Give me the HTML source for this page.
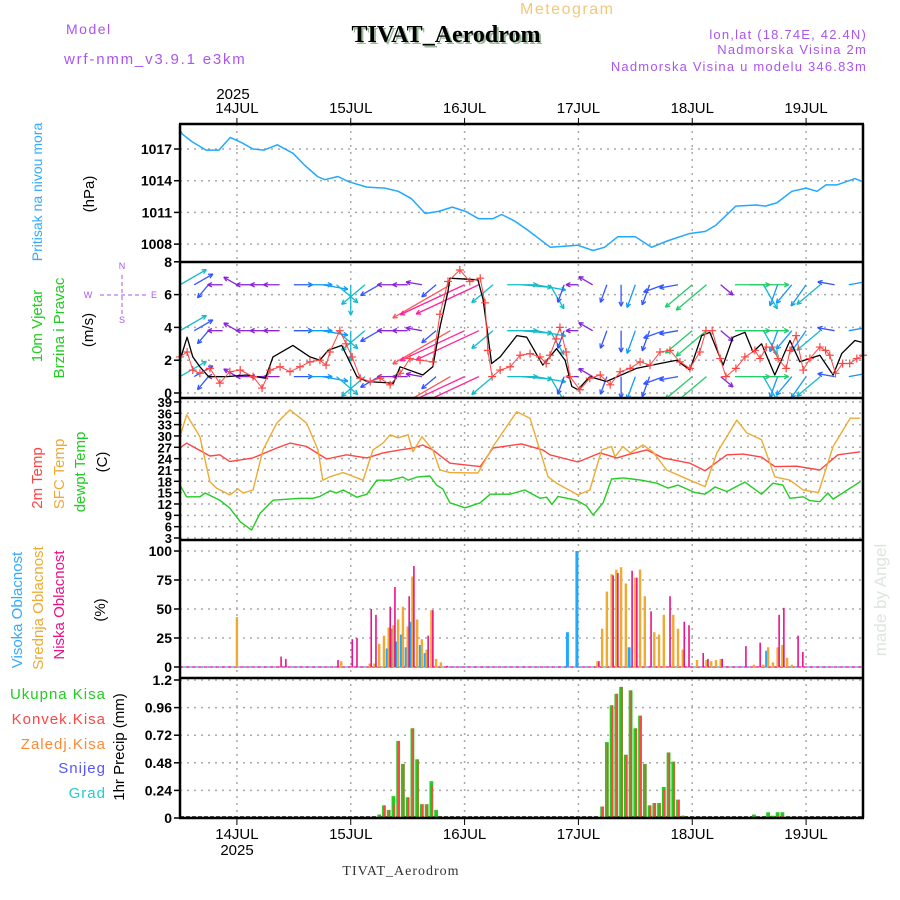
<!DOCTYPE html>
<html><head><meta charset="utf-8">
<style>
html,body{margin:0;padding:0;background:#fff;}
svg{display:block;font-family:"Liberation Sans",sans-serif;}
</style></head>
<body>
<svg id="chart" width="900" height="900" viewBox="0 0 900 900" xmlns="http://www.w3.org/2000/svg">
<g>
<text x="520" y="14" font-size="16" fill="#f2c878" letter-spacing="1.5">Meteogram</text>
<text x="448" y="44" text-anchor="middle" font-family="Liberation Serif, serif" font-weight="bold" font-size="24" fill="#9ab89a">TIVAT_Aerodrom</text>
<text x="446" y="42" text-anchor="middle" font-family="Liberation Serif, serif" font-weight="bold" font-size="24" fill="#000">TIVAT_Aerodrom</text>
<text x="66" y="34" font-size="14" fill="#aa55ee" letter-spacing="1.5">Model</text>
<text x="64" y="64" font-size="15" fill="#aa55ee" letter-spacing="1.8">wrf-nmm_v3.9.1 e3km</text>
<text x="867" y="39" text-anchor="end" font-size="13" fill="#aa55ee" letter-spacing="1.2">lon,lat (18.74E, 42.4N)</text>
<text x="867" y="54" text-anchor="end" font-size="13" fill="#aa55ee" letter-spacing="1.2">Nadmorska Visina 2m</text>
<text x="867" y="71" text-anchor="end" font-size="13" fill="#aa55ee" letter-spacing="1.2">Nadmorska Visina u modelu 346.83m</text>
</g>
<g id="grid"></g>
<g id="marks"></g>
<g id="frame"></g>
<g id="labels">
<text transform="translate(42,192) rotate(-90)" text-anchor="middle" font-size="14" fill="#33aaff">Pritisak na nivou mora</text>
<text transform="translate(94,194) rotate(-90)" text-anchor="middle" font-size="15" fill="#000">(hPa)</text>
<text transform="translate(42,326) rotate(-90)" text-anchor="middle" font-size="15" fill="#22cc22">10m Vjetar</text>
<text transform="translate(64,328) rotate(-90)" text-anchor="middle" font-size="15" fill="#22cc22">Brzina i Pravac</text>
<text transform="translate(93,330) rotate(-90)" text-anchor="middle" font-size="15" fill="#000">(m/s)</text>
<g fill="#aa55ee" font-size="9" stroke="none">
<text x="122" y="269" text-anchor="middle">N</text>
<text x="122" y="323" text-anchor="middle">S</text>
<text x="88" y="298" text-anchor="middle">W</text>
<text x="154" y="298" text-anchor="middle">E</text>
<line x1="122" y1="275" x2="122" y2="314" stroke="#aa55ee" stroke-dasharray="4,3"/>
<line x1="100" y1="295" x2="146" y2="295" stroke="#aa55ee" stroke-dasharray="4,3"/>
</g>
<text transform="translate(42,478) rotate(-90)" text-anchor="middle" font-size="15" fill="#ff4444">2m Temp</text>
<text transform="translate(64,474) rotate(-90)" text-anchor="middle" font-size="15" fill="#eeaa33">SFC Temp</text>
<text transform="translate(85,472) rotate(-90)" text-anchor="middle" font-size="15" fill="#22cc22">dewpt Temp</text>
<text transform="translate(107,462) rotate(-90)" text-anchor="middle" font-size="15" fill="#000">(C)</text>
<text transform="translate(22,610) rotate(-90)" text-anchor="middle" font-size="15" fill="#33aaff">Visoka Oblacnost</text>
<text transform="translate(43,608) rotate(-90)" text-anchor="middle" font-size="15" fill="#eeaa33">Srednja Oblacnost</text>
<text transform="translate(64,605) rotate(-90)" text-anchor="middle" font-size="15" fill="#ee1188">Niska Oblacnost</text>
<text transform="translate(105,610) rotate(-90)" text-anchor="middle" font-size="15" fill="#000">(%)</text>
<text x="106" y="699" text-anchor="end" font-size="15" fill="#22cc22" letter-spacing="1">Ukupna Kisa</text>
<text x="106" y="724" text-anchor="end" font-size="15" fill="#ff4444" letter-spacing="1">Konvek.Kisa</text>
<text x="106" y="749" text-anchor="end" font-size="15" fill="#ff8833" letter-spacing="1">Zaledj.Kisa</text>
<text x="106" y="773" text-anchor="end" font-size="15" fill="#5555ff" letter-spacing="1">Snijeg</text>
<text x="106" y="798" text-anchor="end" font-size="15" fill="#22cccc" letter-spacing="1">Grad</text>
<text transform="translate(124,747) rotate(-90)" text-anchor="middle" font-size="15" fill="#000">1hr Precip (mm)</text>
<text transform="translate(886,600) rotate(-90)" text-anchor="middle" font-size="17" fill="#dde6dd">made by Angel</text>
<text x="233" y="99" text-anchor="middle" font-size="15" fill="#000">2025</text>
<text x="237" y="855" text-anchor="middle" font-size="15" fill="#000">2025</text>
<text x="401" y="875" text-anchor="middle" font-family="Liberation Serif, serif" font-size="14" fill="#333" letter-spacing="1">TIVAT_Aerodrom</text>
</g>
</svg>
<script>
// ---- data ----
const dayLabels = ["14JUL","15JUL","16JUL","17JUL","18JUL","19JUL"];
const dayHours = [12,36,60,84,108,132];
const pressTicks = [1008,1011,1014,1017];
const windTicks = [0,2,4,6,8];
const tempTicks = [3,6,9,12,15,18,21,24,27,30,33,36,39];
const cloudTicks = [0,25,50,75,100];
const precipTicks = [0,0.24,0.48,0.72,0.96,1.2];

const pHours = [0,0.5,2.5,5.5,8.2,10.6,13,15.4,17.7,20.5,23.8,26.2,29,30.5,33.3,35.6,39.4,43.2,46,48.8,51.7,54.5,57.4,60.2,63,65.9,67.8,70.5,73.4,78.1,81,83.8,87.1,89.5,92.3,96,99.4,102.7,107.4,110.8,113,117.2,121.5,123.4,125.8,129,132,134.3,136.2,138.5,142.3,144];
const pVals = [1018.8,1018.4,1017.7,1016.9,1016.9,1018.1,1017.6,1017.0,1016.9,1017.4,1016.6,1015.5,1014.4,1014.1,1014.4,1013.9,1013.4,1013.3,1013.0,1012.3,1010.9,1011.1,1011.5,1011.1,1010.4,1010.4,1010.8,1010.2,1009.3,1007.7,1007.8,1007.9,1007.4,1007.7,1008.7,1008.7,1007.7,1008.3,1009.0,1009.2,1009.8,1011.6,1011.7,1011.6,1011.9,1013.0,1013.3,1013.0,1013.6,1013.6,1014.2,1013.9];

const spdHours = [0,1.5,2.7,4.2,6,10,14,18,19.6,23.8,27.4,29.5,31.2,34.1,37.3,39.4,45,46.4,51.2,53.3,54.8,56.5,56.9,62.8,63.9,65.7,67.5,71,73.1,76.5,79.4,81.2,82.6,83.9,86.4,89.9,96.2,101.2,104.7,107.5,110,111.7,114.5,116.6,119.1,120.8,122.6,125.4,128.6,130.7,134.9,137.7,139.5,142.3,143.7];
const spdVals = [2.0,3.4,2.2,1.6,1.0,1.0,1.1,0.9,2.2,2.9,2.2,2.0,2.6,2.9,1.0,0.7,0.6,1.6,1.1,1.6,4.0,6.2,7.0,6.9,5.7,1.8,2.2,3.5,3.4,1.7,2.7,2.0,0.4,0.2,1.0,0.7,1.5,1.8,2.0,1.4,3.5,3.7,1.7,3.4,3.7,2.5,3.0,1.1,3.2,1.9,2.3,1.1,2.4,3.2,3.1];

const gustHours = [0,1.5,2.7,4.2,6.3,8.4,10.5,12.7,15.4,17.3,19,21.1,23.2,25.3,27.4,29.5,30.8,31.6,33.7,35,36.3,38,40.1,42.2,44.3,46.4,48.5,50.6,53.3,54.8,56.5,59,61.1,63.3,64.3,64.9,65.8,67.5,69.6,71.7,73.8,75.9,77.2,78,79.3,80.1,81.4,82.2,84.3,86.4,88.6,90.7,92.8,94.9,97,99.1,101.2,103.3,105.4,107.5,109.6,110.9,112.2,113.9,115.1,117.2,119.1,121.2,122.3,123.6,124.8,126.1,127.8,128.6,129.9,131.4,132.8,134.9,136.1,137,138.2,139.7,141.2,142.7,144];
const gustVals = [2.2,2.5,1.4,1.2,1.5,0.6,1.3,1.4,1.0,0.3,1.4,1.6,1.3,1.6,1.9,2.0,1.7,2.5,3.8,3.0,2.2,0.9,0.7,0.9,0.5,1.2,2.1,2.0,1.9,4.8,6.8,7.5,6.8,7.0,5.5,2.6,1.0,1.4,1.6,2.3,2.4,2.2,1.8,2.3,3.3,4.0,2.5,1.0,0.2,0.9,1.1,0.5,1.3,1.5,1.9,1.7,2.5,2.6,1.9,1.5,2.5,3.8,3.8,2.1,1.0,1.5,2.2,2.6,2.1,2.8,2.8,2.1,1.5,2.6,3.5,1.4,2.1,2.8,2.6,2.3,1.2,1.8,1.8,2.1,2.3];

const windHours = [0,3,6,9,12,15,18,21,24,27,30,33,36,39,42,45,48,51,54,57,60,63,66,69,72,75,78,81,84,87,90,93,96,99,102,105,108,111,114,117,120,123,126,129,132,135,138,141,144];
const windDir = [60,60,220,270,300,270,270,270,90,90,100,130,180,230,240,270,270,280,230,240,245,245,230,90,95,100,150,200,270,300,200,180,200,200,250,260,230,230,130,90,90,150,200,220,215,230,280,80,80];
const windSpd = [2.5,1.5,1,0.8,0.8,0.8,0.8,0.9,1.2,1.8,2,2.2,2.5,2.5,1.5,0.9,0.8,0.9,1.2,6.5,7,6.8,2.2,2.5,2.5,2.5,2.2,1.2,0.5,0.9,1.2,1.5,1.8,1.5,1.5,1.2,3,3.5,0.9,3,3.5,2.2,1.6,1.8,2,2.5,1,2,3];
const windRows = [1,3.8,6.6];

const t2Hours = [0,1.4,6.3,8.4,10.5,15.4,20.4,23.2,26.7,30.9,35.1,39.4,42.8,46.4,49.1,51.2,53.3,56.9,63.3,66,72,76.5,78,83.9,88.6,92.1,94.9,98.4,101.8,107.5,110.7,115.3,118.7,122.6,125.4,130,134.9,138.7,143.4];
const t2Vals = [26.8,28.1,24.7,25,23.2,24.2,26.8,28.1,27.2,23.9,25,24.2,25.5,26.3,26.8,27.6,26.3,22.8,21.9,26.8,27.9,26.3,25,23.1,25.5,24.2,25.2,26.3,24.2,22.8,20.8,25,25.2,24.4,21.9,22,21,25,25.8];
const sfcHours = [0,1.4,4.2,6.3,7.7,10.5,12.2,13.3,15.4,17.5,20.4,23.2,26.7,29.1,30.1,31.6,34.4,38.6,40.7,42.8,44.3,46,48.1,49.1,51,53.3,54.8,56.9,62.8,66,71,73.8,77.6,79.4,83.9,86.4,88.9,91,91.7,93.4,94.9,97.6,99.7,102.6,107.5,110.7,113.2,117.4,119.5,122.6,125.4,128.6,131.4,134.6,137.7,141.3,143.4];
const sfcVals = [29.8,35.6,29.8,17.9,16.2,14.4,16.0,14.9,15.7,26.3,33.4,36.9,33.4,26.3,18.3,19.2,20.3,18.3,26.3,28.1,30.3,29.5,30.3,25.8,29.8,26.3,21,20.3,20.2,27.2,36.4,34.7,19.2,17.5,14.4,15.7,26.3,27.2,24.5,27.2,25.5,27.6,25.8,21,18.3,16.6,25.5,34.2,30.8,29,19.2,18.3,15.7,15,27.2,34.7,34.7];
const dewHours = [0,1.4,4.2,5.3,8.4,10.5,12.7,15.1,16.9,19.6,25.3,28,29.5,31.6,33,34.4,37.3,39.4,41.5,44.3,47,48.1,49.9,52.7,54.1,55.4,56.9,60.1,63.3,65.4,69.6,72.7,75.9,77.3,78.4,79.7,83.6,85.7,87.1,89.2,91,93.4,97.3,100.5,102.9,105,108.6,110.7,112.8,115.3,119.1,122.6,125,127.1,128.6,131.4,132.8,134.9,136.6,137.7,143.4];
const dewVals = [17,13.9,13.9,14.9,13,10.9,7.3,5.1,9.6,13,13.5,13.5,14,15.5,14.9,15.7,13.8,14.6,18.3,18.3,19.1,18.3,19.1,19.4,17,16,12.3,11,12.3,14.6,14.6,15.7,13.5,13.8,11.9,14,13,11.5,9.1,12.3,18.6,18.9,18.3,17.5,16.2,17,15,14.6,16.5,15.3,17.8,14.6,17.5,17,13.5,13.9,12.9,12.6,14.9,13.3,17.9];

const highH = [44,45,46,47,48,49,51,52,82,84,95,124];
const highV = [16,33,22,28,17,39,19,12,30,100,17,14];
const midH = [12,34,40,41,42,43,44,45,46,47,48,49,50,51,52,53,54,55,88,89,90,91,92,93,94,96,97,98,100,101,102,104,105,106,109,111,112,113,114,121,123,124,125,126,127,128,129];
const midV = [43,5,3,3,20,27,34,36,41,52,35,78,41,24,15,49,7,4,5,33,65,80,84,86,72,77,84,61,30,28,45,45,33,15,6,6,5,6,7,2,2,17,4,17,19,8,2];
const lowH = [21,22,33,36,37,40,41,44,45,48,49,52,53,56,88,91,92,95,96,99,103,106,107,110,111,114,119,122,126,127,130,131];
const lowV = [9,7,6,24,25,50,45,52,69,61,87,27,49,1,5,79,81,83,77,48,61,39,36,12,7,7,18,21,45,51,27,13];

const rainH = [42,43,44,45,46,47,48,49,50,51,52,53,54,89,90,91,92,93,94,95,96,97,98,99,100,101,102,103,104,105,106,121,122,124,125,126,127,128];
const rainTotal = [0.03,0.11,0.07,0.19,0.67,0.47,0.18,0.78,0.51,0.12,0.12,0.32,0.07,0.1,0.66,0.98,1.08,1.14,0.55,1.11,0.78,0.89,0.47,0.11,0.13,0.13,0.27,0.57,0.49,0.16,0.02,0.03,0.01,0.05,0.02,0.05,0.05,0.01];
const rainConv = [0.03,0.11,0.07,0.12,0.67,0.47,0.18,0.78,0.51,0.12,0.12,0.28,0,0.1,0.65,0.98,1.08,1.14,0.55,1.11,0.78,0.89,0.47,0.11,0.13,0.13,0.25,0.57,0.49,0.16,0.02,0,0,0.01,0,0.02,0.02,0];

// ---- scales ----
const X0 = 180, X1 = 863;
const x = h => X0 + h * (X1 - X0) / 144;
const yP = p => 149 + (1017 - p) * 10.57;
const yW = s => 393 - s * 16.4;
const yT = t => 538 - (t - 3) * 3.78;
const yC = c => 667 - c * 1.16;
const yR = r => 818 - r * 115;
const panels = [[124,262],[262,398],[398,540],[540,678],[678,818]];

const NS = "http://www.w3.org/2000/svg";
function mk(parent, tag, attrs) {
  const e = document.createElementNS(NS, tag);
  for (const k in attrs) e.setAttribute(k, attrs[k]);
  parent.appendChild(e);
  return e;
}
const grid = document.getElementById("grid");
const marks = document.getElementById("marks");
const frame = document.getElementById("frame");
const labels = document.getElementById("labels");

// vertical day gridlines + day labels
dayHours.forEach((h, i) => {
  const gl = mk(grid, "line", {x1:x(h), x2:x(h), y1:124, y2:818, stroke:"#aaa", "stroke-dasharray":"2,5", "stroke-width":1.5});
  
  
  const tt = mk(labels, "text", {x:x(h), y:113, "text-anchor":"middle", "font-size":15, fill:"#000"});
  tt.textContent = dayLabels[i];
  
  
  const bt = mk(labels, "text", {x:x(h), y:839, "text-anchor":"middle", "font-size":15, fill:"#000"});
  bt.textContent = dayLabels[i];
  
  
  mk(frame, "line", {x1:x(h), x2:x(h), y1:118, y2:124, stroke:"#000"});
  mk(frame, "line", {x1:x(h), x2:x(h), y1:818, y2:825, stroke:"#000"});
});

// horizontal ticks
function hticks(ticks, yf, fmt, fs) {
  ticks.forEach(v => {
    const y = yf(v);
    const g = mk(grid, "line", {x1:X0, x2:X1, y1:y, y2:y, stroke:"#aaa", "stroke-dasharray":"2,5", "stroke-width":1.5});
    
    
    mk(frame, "line", {x1:X0-6, x2:X0, y1:y, y2:y, stroke:"#000", "stroke-width":1.5});
    const t = mk(labels, "text", {x:X0-8, y:y+5, "text-anchor":"end", "font-size":fs, "font-weight":"bold", fill:"#000"});
    t.textContent = fmt(v);
    
    
  });
}
hticks(pressTicks, yP, v => v, 14);
hticks(windTicks, yW, v => v, 14);
hticks(tempTicks, yT, v => v, 13);
hticks(cloudTicks, yC, v => v, 14);
hticks(precipTicks, yR, v => v, 14);

function polyline(hs, vs, yf, color, name, w) {
  const pts = hs.map((h, i) => x(h).toFixed(1) + "," + yf(vs[i]).toFixed(1)).join(" ");
  const p = mk(marks, "polyline", {points:pts, fill:"none", stroke:color, "stroke-width":w||1.4, "stroke-linejoin":"round"});
  
  
}

// pressure
polyline(pHours, pVals, yP, "#22a8ff", "pressure-line", 1.5);

// wind arrows
function spdColor(s) {
  if (s < 1) return "#8822dd";
  if (s < 1.6) return "#3355ff";
  if (s < 2.2) return "#1199ff";
  if (s < 2.8) return "#11bbcc";
  if (s < 4) return "#22cc66";
  if (s < 5.5) return "#ffaa22";
  if (s < 6.8) return "#ff5555";
  return "#ff2299";
}
const clip = mk(marks, "clipPath", {id:"windclip"});
mk(clip, "rect", {x:X0, y:262, width:X1-X0, height:136});
const windG = mk(marks, "g", {"clip-path":"url(#windclip)"});


windRows.forEach(r => {
  windHours.forEach((h, i) => {
    const s = windSpd[i], d = windDir[i] * Math.PI / 180;
    const L = 8 + s * 9;
    const x0 = x(h), y0 = yW(r);
    const dx = Math.sin(d), dy = -Math.cos(d);
    const x1 = x0 + dx * L, y1 = y0 + dy * L;
    const c = spdColor(s);
    const a = mk(windG, "g", {stroke:c, "stroke-width":1.3, fill:"none"});
    
    
    mk(a, "line", {x1:x0, y1:y0, x2:x1, y2:y1});
    const hl = 5, ang = 0.45;
    const bx = -dx, by = -dy;
    const ca = Math.cos(ang), sa = Math.sin(ang);
    mk(a, "line", {x1:x1, y1:y1, x2:x1 + hl*(bx*ca - by*sa), y2:y1 + hl*(bx*sa + by*ca)});
    mk(a, "line", {x1:x1, y1:y1, x2:x1 + hl*(bx*ca + by*sa), y2:y1 + hl*(-bx*sa + by*ca)});
  });
});

// wind speed & gust
polyline(spdHours, spdVals, yW, "#000", "wind-speed-line", 1.3);
polyline(gustHours, gustVals, yW, "#ff4444", "wind-gust-line", 1);
gustHours.forEach((h, i) => {
  const cx = x(h), cy = yW(gustVals[i]);
  const p = mk(marks, "path", {d:`M${cx-4},${cy}H${cx+4}M${cx},${cy-4}V${cy+4}`, stroke:"#ff4444", "stroke-width":1.2});
  
  
});

// temperatures
polyline(t2Hours, t2Vals, yT, "#ff4444", "temp-2m-line", 1.4);
polyline(sfcHours, sfcVals, yT, "#eeaa33", "temp-sfc-line", 1.4);
polyline(dewHours, dewVals, yT, "#22cc22", "dewpoint-line", 1.4);

// clouds
const zl = mk(marks, "line", {x1:X0, x2:X1, y1:yC(0), y2:yC(0), stroke:"#ee1188", "stroke-dasharray":"3,3", "stroke-width":1.2});


mk(marks, "line", {x1:X0+3, x2:X1, y1:yC(0), y2:yC(0), stroke:"#33aaff", "stroke-dasharray":"3,3", "stroke-width":1.2});
function bars(hs, vs, yf, base, color, w, off, name) {
  hs.forEach((h, i) => {
    const y = yf(vs[i]);
    const r = mk(marks, "rect", {x:x(h) + off - w/2, y:y, width:w, height:Math.max(0, base - y), fill:color});
    
    
  });
}
bars(highH, highV, yC, yC(0), "#22a8ff", 3, -1.5, "high-cloud-bar");
bars(midH, midV, yC, yC(0), "#eeaa33", 2.4, 0, "mid-cloud-bar");
bars(lowH, lowV, yC, yC(0), "#ee1188", 1.6, 1.5, "low-cloud-bar");

// precipitation
const pz = mk(marks, "line", {x1:X0, x2:X1, y1:yR(0)-1, y2:yR(0)-1, stroke:"#000", "stroke-dasharray":"4,2", "stroke-width":1.5});


bars(rainH, rainTotal, yR, yR(0), "#22cc22", 3.8, 0, "total-rain-bar");
bars(rainH, rainConv, yR, yR(0), "#ff4444", 1.6, 0.6, "convective-rain-bar");

// frame
panels.forEach(p => {
  mk(frame, "line", {x1:X0-1, x2:X1+1, y1:p[0], y2:p[0], stroke:"#000", "stroke-width":2.5});
});
mk(frame, "line", {x1:X0-1, x2:X1+1, y1:818, y2:818, stroke:"#000", "stroke-width":2.5});
mk(frame, "line", {x1:X0, x2:X0, y1:124, y2:818, stroke:"#000", "stroke-width":2.5});
mk(frame, "line", {x1:X1, x2:X1, y1:124, y2:818, stroke:"#000", "stroke-width":2.5});
</script>
</body></html>
